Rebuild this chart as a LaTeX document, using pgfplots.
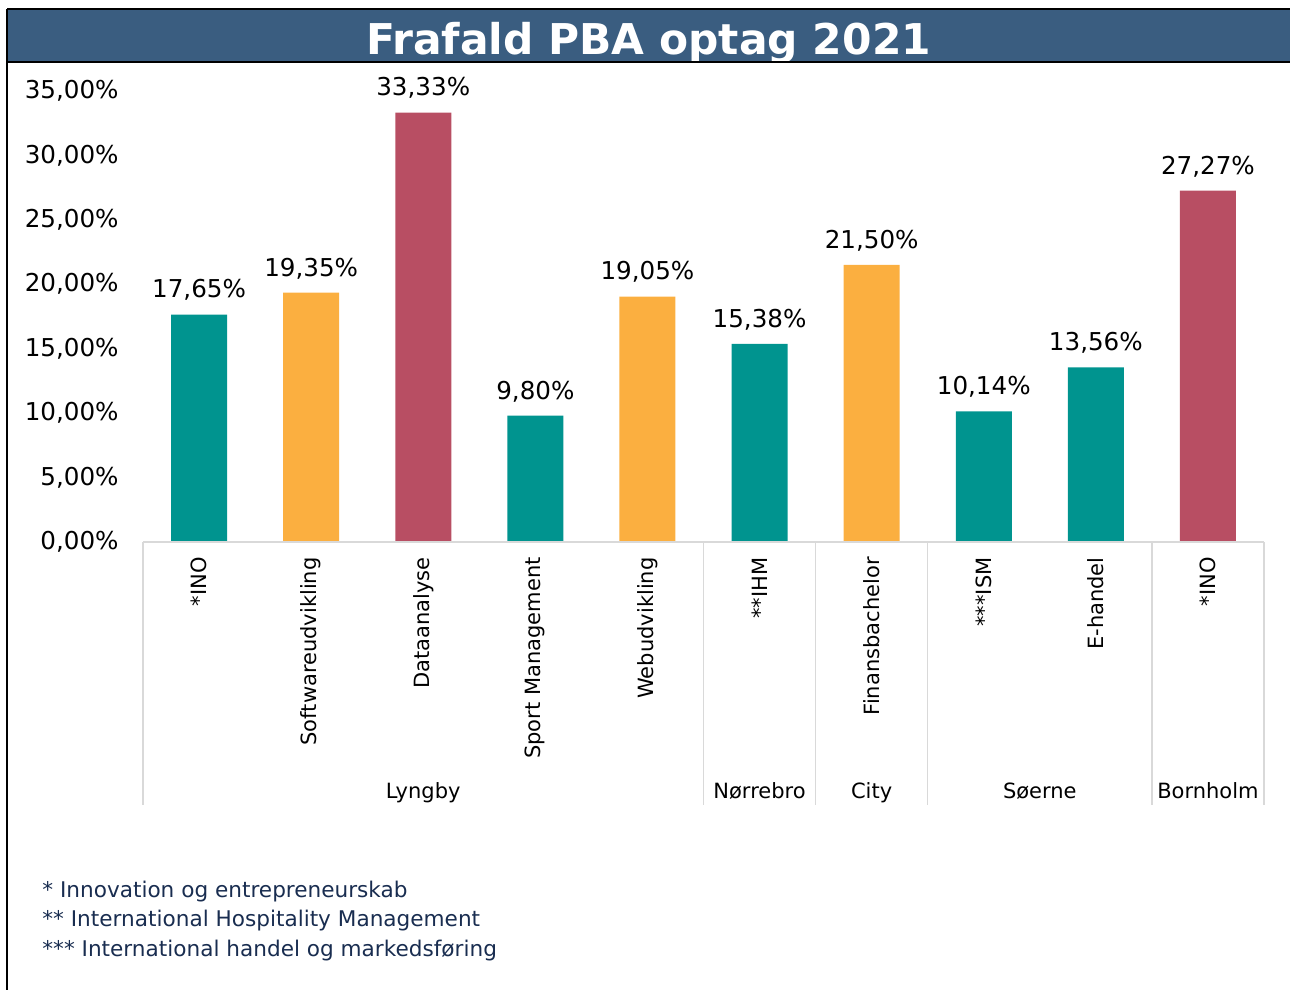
\documentclass[border=0pt]{standalone}
\usepackage{fontspec}
\setmainfont{DejaVu Sans}
\usepackage{pgfplots}
\pgfplotsset{compat=1.18}
\definecolor{titlebar}{RGB}{58,93,128}
\definecolor{cteal}{RGB}{0,148,143}
\definecolor{corange}{RGB}{251,175,64}
\definecolor{cred}{RGB}{184,78,99}
\definecolor{sepgray}{RGB}{217,217,217}
\definecolor{notecol}{RGB}{25,45,80}
\begin{document}
\begin{tikzpicture}
\path[use as bounding box] (0,0) rectangle (645pt,-495pt);
% title bar
\fill[titlebar] (3.5pt,-4.5pt) rectangle (645pt,-31pt);
\begin{scope}
\clip (3.5pt,-4.5pt) rectangle (645pt,-31pt);
\node[anchor=base, text=white, font=\fontsize{21.2pt}{24pt}\selectfont\bfseries, inner sep=0pt] at (324.25pt,-27.5pt) {Frafald PBA optag 2021};
\end{scope}
\draw[black, line width=1pt] (3.5pt,-4.7pt) -- (645pt,-4.7pt);
\draw[black, line width=0.6pt] (3.5pt,-31pt) -- (645pt,-31pt);
\draw[black, line width=0.8pt] (3.5pt,-4.5pt) -- (3.5pt,-495pt);
\begin{axis}[
  at={(71.5pt,-271pt)}, anchor=south west,
  scale only axis, width=560.5pt, height=225.5pt,
  xmin=-0.5, xmax=9.5, ymin=0, ymax=35,
  ytick={0,5,...,35},
  xtick={0,...,9},
  xticklabels={*INO,Softwareudvikling,Dataanalyse,Sport Management,Webudvikling,**IHM,Finansbachelor,***ISM,E-handel,*INO},
  xticklabel style={rotate=90, anchor=east, inner sep=0pt, font=\fontsize{10.5pt}{12pt}\selectfont},
  xticklabel shift=7.5pt,
  yticklabel style={anchor=east, inner sep=0pt, xshift=-12pt, font=\fontsize{12.3pt}{14pt}\selectfont},
  yticklabel={\pgfmathprintnumber{\tick}\%},
  /pgf/number format/.cd, fixed, fixed zerofill, precision=2, use comma, assume math mode=true, 1000 sep={},
  /pgfplots/.cd,
  axis line style={draw=none},
  major tick length=0pt,
  ybar, bar width=28pt,
  nodes near coords={\pgfmathprintnumber{\pgfplotspointmeta}\%},
  every node near coord/.append style={anchor=base, inner sep=0pt, yshift=8.3pt, font=\fontsize{12.3pt}{14pt}\selectfont, text=black},
  clip=false,
]
\addplot[fill=cteal, draw=none, bar shift=0pt] coordinates {(0,17.65) (3,9.80) (5,15.38) (7,10.14) (8,13.56)};
\addplot[fill=corange, draw=none, bar shift=0pt] coordinates {(1,19.35) (4,19.05) (6,21.50)};
\addplot[fill=cred, draw=none, bar shift=0pt] coordinates {(2,33.33) (9,27.27)};
\draw[sepgray, line width=0.75pt] (axis cs:-0.5,0) -- (axis cs:9.5,0);
\pgfplotsinvokeforeach{-0.5,4.5,5.5,6.5,8.5,9.5}{
  \draw[sepgray, line width=0.75pt] (axis cs:#1,0) -- ++(0pt,-131.5pt);
}
\node[anchor=base, inner sep=0pt, font=\fontsize{10.5pt}{12pt}\selectfont] at ([yshift=-128.2pt]axis cs:2,0) {Lyngby};
\node[anchor=base, inner sep=0pt, font=\fontsize{10.5pt}{12pt}\selectfont] at ([yshift=-128.2pt]axis cs:5,0) {Nørrebro};
\node[anchor=base, inner sep=0pt, font=\fontsize{10.5pt}{12pt}\selectfont] at ([yshift=-128.2pt]axis cs:6,0) {City};
\node[anchor=base, inner sep=0pt, font=\fontsize{10.5pt}{12pt}\selectfont] at ([yshift=-128.2pt]axis cs:7.5,0) {Søerne};
\node[anchor=base, inner sep=0pt, font=\fontsize{10.5pt}{12pt}\selectfont] at ([yshift=-128.2pt]axis cs:9,0) {Bornholm};
\end{axis}
\begin{scope}[every node/.style={anchor=base west, inner sep=0pt, text=notecol, font=\fontsize{10.8pt}{13pt}\selectfont}]
\node at (21pt,-448.5pt) {* Innovation og entrepreneurskab};
\node at (21pt,-463pt) {** International Hospitality Management};
\node at (21pt,-478pt) {*** International handel og markedsføring};
\end{scope}
\end{tikzpicture}
\end{document}
